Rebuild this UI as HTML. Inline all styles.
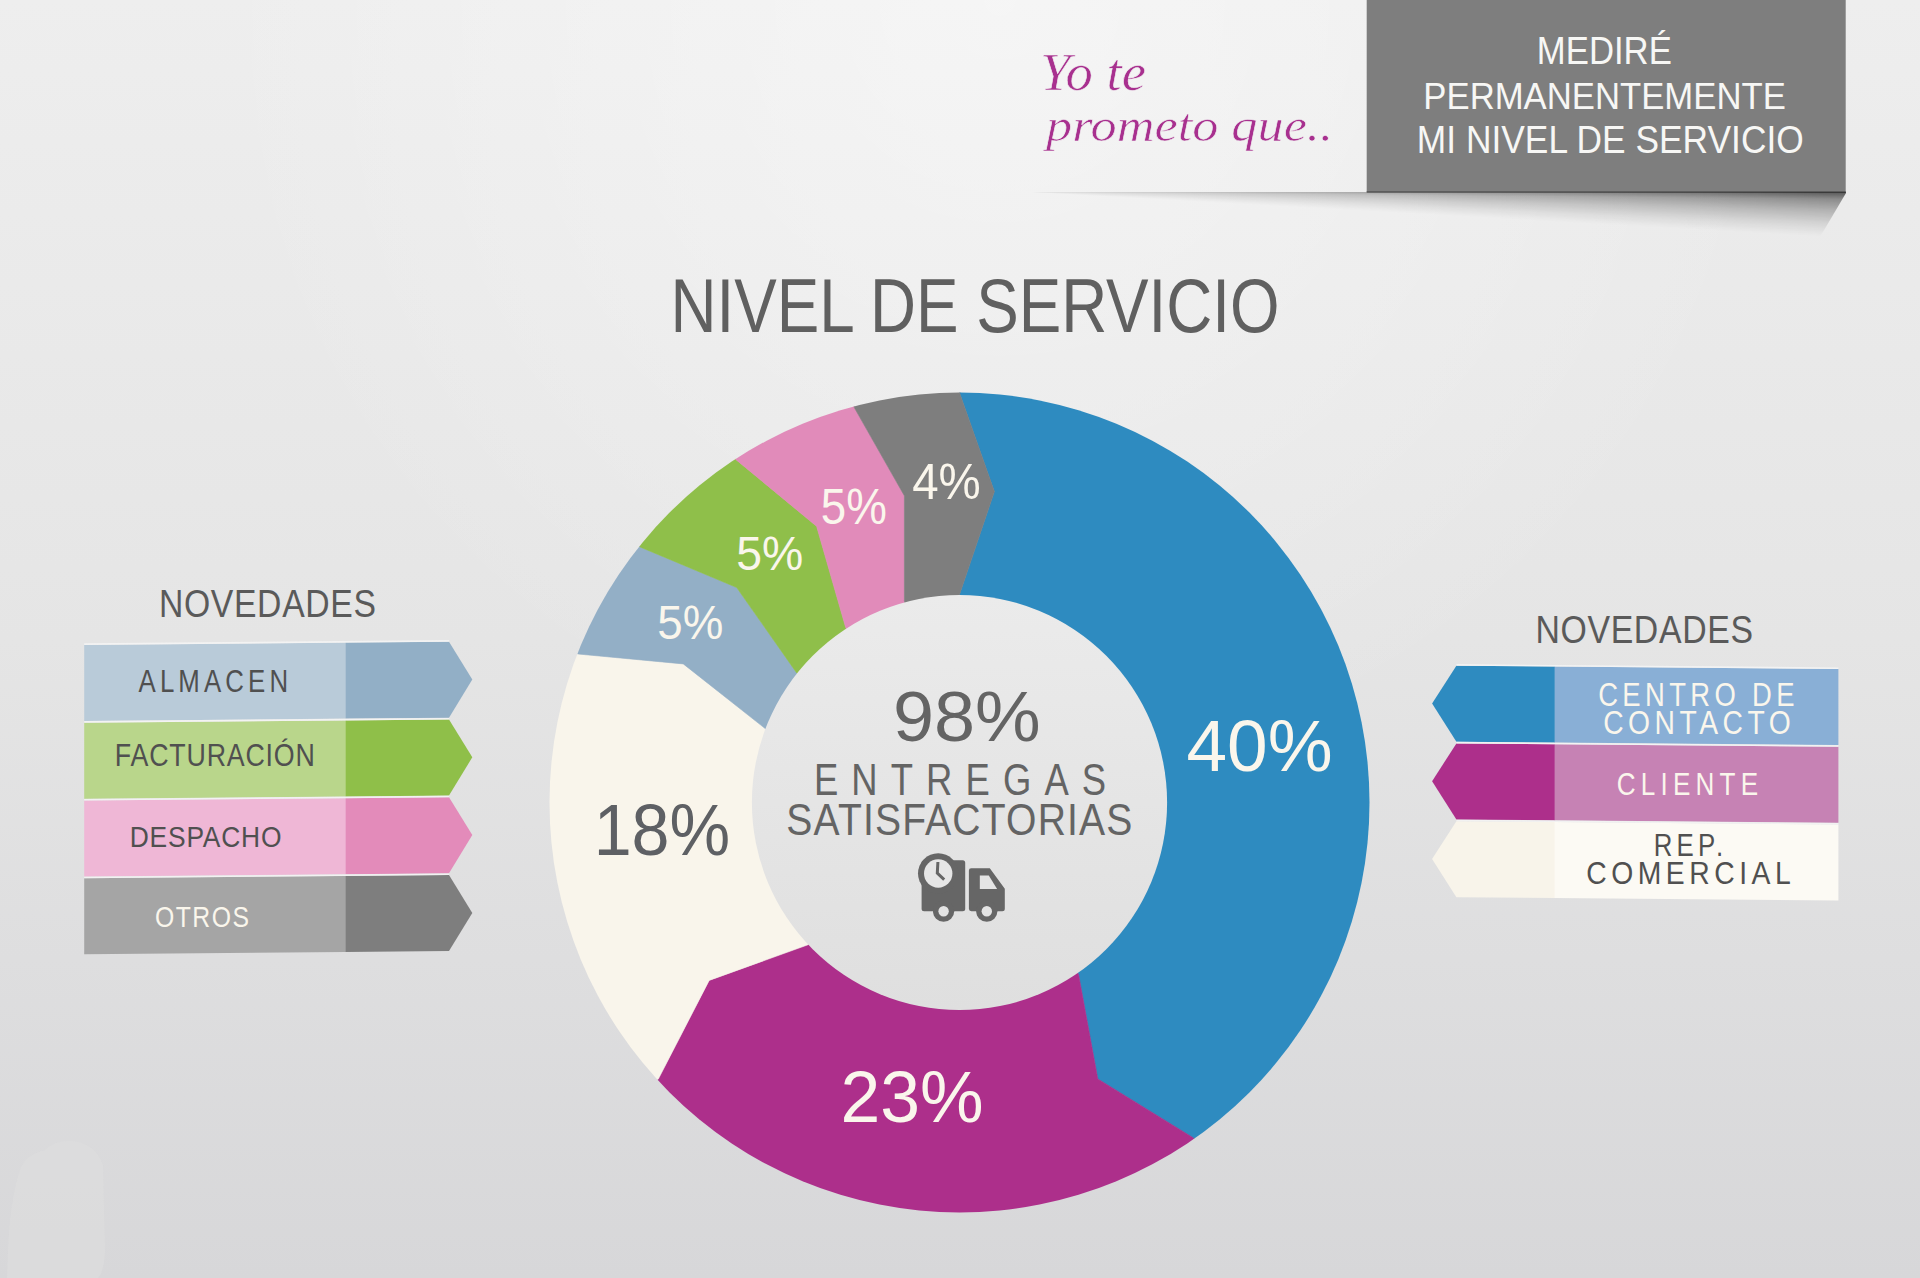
<!DOCTYPE html>
<html><head><meta charset="utf-8"><title>Nivel de servicio</title>
<style>html,body{margin:0;padding:0;width:1920px;height:1278px;overflow:hidden;background:#e6e6e6}
svg{display:block;position:absolute;left:0;top:0}
#shd{position:absolute;left:1024px;top:192px;width:822px;height:50px;
background:conic-gradient(from 90deg at 0 0, rgba(0,0,0,0.78) 0deg, rgba(0,0,0,0.5) 0.5deg, rgba(0,0,0,0.3) 1.3deg, rgba(0,0,0,0.12) 2.25deg, rgba(0,0,0,0.03) 2.9deg, rgba(0,0,0,0) 3.2deg, rgba(0,0,0,0) 360deg);
-webkit-mask-image:linear-gradient(to right, rgba(0,0,0,0.12), rgba(0,0,0,0.18) 9%, rgba(0,0,0,0.36) 37%, rgba(0,0,0,0.66) 82%, rgba(0,0,0,0.82));
mask-image:linear-gradient(to right, rgba(0,0,0,0.12), rgba(0,0,0,0.18) 9%, rgba(0,0,0,0.36) 37%, rgba(0,0,0,0.66) 82%, rgba(0,0,0,0.82));
clip-path:polygon(0 0, 822px 0, 822px 1px, 796px 45px, 0 50px)}text{font-family:'Liberation Sans', Arial, sans-serif}</style></head>
<body>
<svg width="1920" height="1278" viewBox="0 0 1920 1278">
<defs>
<linearGradient id="bg" x1="0.5" y1="0" x2="0.5" y2="1">
<stop offset="0" stop-color="#eeeeee"/><stop offset="0.5" stop-color="#e5e5e5"/><stop offset="1" stop-color="#d7d7d9"/></linearGradient>
<radialGradient id="bgr" gradientUnits="userSpaceOnUse" cx="1000" cy="0" r="800">
<stop offset="0" stop-color="#fff" stop-opacity="0.45"/><stop offset="1" stop-color="#fff" stop-opacity="0"/></radialGradient>
<linearGradient id="inner" x1="0" y1="0" x2="0" y2="1">
<stop offset="0" stop-color="#ebebeb"/><stop offset="1" stop-color="#dfdfdf"/></linearGradient>
<clipPath id="oc"><circle cx="959.5" cy="802.5" r="410.0"/></clipPath>
</defs>
<rect width="1920" height="1278" fill="url(#bg)"/>
<rect width="1920" height="1278" fill="url(#bgr)"/>
<path d="M7,1278 L8,1250 Q10,1200 20,1170 Q25,1155 45,1150 Q55,1140 72,1141 Q95,1143 103,1165 L105,1250 Q104,1272 98,1278 Z" fill="#dedede" opacity="0.55"/>
<!-- header -->

<rect x="1366.7" y="0" width="479" height="192.4" fill="#7e7e7e"/>
<rect x="1366.7" y="191.2" width="479" height="1.2" fill="#555"/>
<text x="1040" y="89.5" font-size="52" fill="#a8308f" stroke="#f2f2f2" stroke-width="0.6" style="font-family:'Liberation Serif',serif;font-style:italic" textLength="106" lengthAdjust="spacingAndGlyphs">Yo te</text>
<text x="1046" y="140.5" font-size="46" fill="#a8308f" stroke="#f1f1f1" stroke-width="0.6" style="font-family:'Liberation Serif',serif;font-style:italic" textLength="287" lengthAdjust="spacingAndGlyphs">prometo que..</text>
<g clip-path="url(#oc)">
<polygon points="959.5,802.5 959.4,594.9 994.4,491.6 959.9,393.8 960.0,282.5 1068.9,294.1 1172.9,328.3 1267.5,383.5 1348.4,457.3 1412.1,546.4 1455.7,646.8 1477.3,754.2 1475.9,863.7 1451.6,970.5 1405.5,1069.8 1339.7,1157.3 1256.9,1229.0 1193.4,1137.9 1097.8,1078.9 1078.5,974.2" fill="#2e8bc0" stroke="#2e8bc0" stroke-width="0.6"/>
<polygon points="959.5,802.5 1078.5,974.2 1097.8,1078.9 1193.4,1137.9 1256.9,1229.0 1163.8,1280.7 1062.0,1312.3 955.9,1322.5 850.0,1310.8 748.7,1277.9 656.2,1224.9 576.5,1154.2 658.3,1079.1 709.2,980.4 807.9,944.8" fill="#ad2f8b" stroke="#ad2f8b" stroke-width="0.6"/>
<polygon points="959.5,802.5 807.9,944.8 709.2,980.4 658.3,1079.1 576.5,1154.2 508.2,1060.9 462.3,954.8 440.9,841.1 445.2,725.5 475.0,613.8 578.2,654.0 683.3,663.9 765.5,728.8" fill="#f9f5eb" stroke="#f9f5eb" stroke-width="0.6"/>
<polygon points="959.5,802.5 765.5,728.8 683.3,663.9 578.2,654.0 475.0,613.8 509.1,542.7 553.6,477.5 640.6,547.2 736.7,587.5 796.7,672.9" fill="#93afc6" stroke="#93afc6" stroke-width="0.6"/>
<polygon points="959.5,802.5 796.7,672.9 736.7,587.5 640.6,547.2 553.6,477.5 610.1,417.4 675.5,366.9 736.0,459.7 816.6,526.3 845.7,627.6" fill="#8fbf4a" stroke="#8fbf4a" stroke-width="0.6"/>
<polygon points="959.5,802.5 845.7,627.6 816.6,526.3 736.0,459.7 675.5,366.9 747.9,327.5 825.6,300.0 854.3,407.6 904.4,495.8 904.4,600.9" fill="#e18bba" stroke="#e18bba" stroke-width="0.6"/>
<polygon points="959.5,802.5 904.4,600.9 904.4,495.8 854.3,407.6 825.6,300.0 892.3,286.9 960.0,282.5 959.9,393.8 994.4,491.6 959.4,594.9" fill="#7e7e7e" stroke="#7e7e7e" stroke-width="0.6"/>
</g>
<circle cx="959.5" cy="802.5" r="207.6" fill="url(#inner)"/>
<g transform="translate(278 798) skewY(-0.5) translate(-278 -798)"><rect x="84.2" y="643.2" width="262" height="76.0" fill="#b9cbd9"/><polygon points="345.7,643.2 449,643.2 472.3,681.2 449,719.2 345.7,719.2" fill="#92afc6"/><rect x="84.2" y="641.6" width="365" height="1.6" fill="#f4f4f4" opacity="0.9"/><rect x="84.2" y="721.0" width="262" height="76.0" fill="#b9d68b"/><polygon points="345.7,721.0 449,721.0 472.3,759.0 449,797.0 345.7,797.0" fill="#8fbf49"/><rect x="84.2" y="719.4" width="365" height="1.6" fill="#f4f4f4" opacity="0.9"/><rect x="84.2" y="798.8" width="262" height="76.0" fill="#efb7d6"/><polygon points="345.7,798.8 449,798.8 472.3,836.8 449,874.8 345.7,874.8" fill="#e38bba"/><rect x="84.2" y="797.2" width="365" height="1.6" fill="#f4f4f4" opacity="0.9"/><rect x="84.2" y="876.6" width="262" height="76.0" fill="#a5a5a5"/><polygon points="345.7,876.6 449,876.6 472.3,914.6 449,952.6 345.7,952.6" fill="#7e7e7e"/><rect x="84.2" y="875.0" width="365" height="1.6" fill="#f4f4f4" opacity="0.9"/></g>
<g transform="translate(1635 783) skewY(0.5) translate(-1635 -783)"><polygon points="1432.1,705.2 1456.4,667.2 1555,667.2 1555,743.2 1456.4,743.2" fill="#2e8bc0"/><rect x="1554.6" y="667.2" width="283.8" height="76.0" fill="#89afd6"/><rect x="1456.4" y="665.6" width="382" height="1.6" fill="#f4f4f4" opacity="0.9"/><polygon points="1432.1,783.0 1456.4,745.0 1555,745.0 1555,821.0 1456.4,821.0" fill="#ad2f8b"/><rect x="1554.6" y="745.0" width="283.8" height="76.0" fill="#c682b4"/><rect x="1456.4" y="743.4" width="382" height="1.6" fill="#f4f4f4" opacity="0.9"/><polygon points="1432.1,860.8 1456.4,822.8 1555,822.8 1555,898.8 1456.4,898.8" fill="#f8f4ea"/><rect x="1554.6" y="822.8" width="283.8" height="76.0" fill="#fcfaf4"/><rect x="1456.4" y="821.2" width="382" height="1.6" fill="#f4f4f4" opacity="0.9"/></g>
<g fill="#666">
<rect x="921.6" y="860.3" width="43.6" height="50.9" rx="2.5"/>
<path d="M968.9,870.5 q0,-2.3 2.3,-2.3 h18.6 l15,20.6 v19.9 q0,2.5 -2.5,2.5 h-31 q-2.4,0 -2.4,-2.4 z"/>
<circle cx="938.2" cy="873.5" r="20.2"/>
<circle cx="943.6" cy="911.2" r="10.6"/>
<circle cx="986.8" cy="911.2" r="10.6"/>
</g>
<circle cx="938.2" cy="873.5" r="14.2" fill="#e6e6e6"/>
<circle cx="943.6" cy="911.2" r="5.2" fill="#e3e3e3"/>
<circle cx="986.8" cy="911.2" r="5.2" fill="#e3e3e3"/>
<path d="M979.8,875.6 h9 l8.3,13.4 h-17.3 z" fill="#e4e4e4"/>
<path d="M937.9,862 l-0.6,11.2 l6.9,6.4" stroke="#666" stroke-width="3" fill="none"/>

<text x="670.60" y="331.70" font-size="75.62" fill="#606060" textLength="609.00" lengthAdjust="spacingAndGlyphs">NIVEL DE SERVICIO</text>
<text x="1536.82" y="64.42" font-size="37.94" fill="#f7f7f5" textLength="135.02" lengthAdjust="spacingAndGlyphs">MEDIRÉ</text>
<text x="1423.36" y="109.42" font-size="37.29" fill="#f7f7f5" textLength="362.42" lengthAdjust="spacingAndGlyphs">PERMANENTEMENTE</text>
<text x="1416.86" y="153.46" font-size="38.65" fill="#f7f7f5" textLength="386.86" lengthAdjust="spacingAndGlyphs">MI NIVEL DE SERVICIO</text>
<text x="158.88" y="617.00" font-size="38.65" fill="#5a5a5a" textLength="217.78" lengthAdjust="spacingAndGlyphs" style="letter-spacing:0.77px">NOVEDADES</text>
<text x="1535.38" y="643.04" font-size="38.65" fill="#5a5a5a" textLength="218.32" lengthAdjust="spacingAndGlyphs" style="letter-spacing:0.77px">NOVEDADES</text>
<text x="138.54" y="691.54" font-size="31.12" fill="#505050" textLength="153.70" lengthAdjust="spacingAndGlyphs" style="letter-spacing:4.98px">ALMACEN</text>
<text x="114.82" y="766.00" font-size="30.45" fill="#505050" textLength="200.84" lengthAdjust="spacingAndGlyphs" style="letter-spacing:0.91px">FACTURACIÓN</text>
<text x="129.76" y="846.50" font-size="29.24" fill="#505050" textLength="152.48" lengthAdjust="spacingAndGlyphs" style="letter-spacing:0.88px">DESPACHO</text>
<text x="154.90" y="927.40" font-size="29.81" fill="#faf6ec" textLength="95.50" lengthAdjust="spacingAndGlyphs" style="letter-spacing:1.79px">OTROS</text>
<text x="1598.18" y="705.58" font-size="32.81" fill="#faf6ec" textLength="200.72" lengthAdjust="spacingAndGlyphs" style="letter-spacing:5.25px">CENTRO DE</text>
<text x="1603.16" y="733.50" font-size="32.81" fill="#faf6ec" textLength="192.14" lengthAdjust="spacingAndGlyphs" style="letter-spacing:5.25px">CONTACTO</text>
<text x="1616.66" y="794.92" font-size="32.11" fill="#faf6ec" textLength="146.64" lengthAdjust="spacingAndGlyphs" style="letter-spacing:6.42px">CLIENTE</text>
<text x="1653.76" y="856.04" font-size="32.20" fill="#505050" textLength="73.46" lengthAdjust="spacingAndGlyphs" style="letter-spacing:5.15px">REP.</text>
<text x="1586.24" y="883.50" font-size="32.11" fill="#505050" textLength="209.06" lengthAdjust="spacingAndGlyphs" style="letter-spacing:5.14px">COMERCIAL</text>
<text x="892.92" y="740.96" font-size="69.91" fill="#646464" textLength="147.70" lengthAdjust="spacingAndGlyphs">98%</text>
<text x="813.90" y="794.92" font-size="45.17" fill="#646464" textLength="305.38" lengthAdjust="spacingAndGlyphs" style="letter-spacing:16.26px">ENTREGAS</text>
<text x="786.30" y="834.96" font-size="43.76" fill="#646464" textLength="347.32" lengthAdjust="spacingAndGlyphs" style="letter-spacing:1.31px">SATISFACTORIAS</text>
<text x="912.18" y="499.46" font-size="49.77" fill="#faf6ec" textLength="68.64" lengthAdjust="spacingAndGlyphs">4%</text>
<text x="820.72" y="524.08" font-size="49.54" fill="#faf6ec" textLength="66.12" lengthAdjust="spacingAndGlyphs">5%</text>
<text x="736.22" y="569.50" font-size="47.50" fill="#faf6ec" textLength="67.04" lengthAdjust="spacingAndGlyphs">5%</text>
<text x="657.30" y="639.04" font-size="48.77" fill="#faf6ec" textLength="66.00" lengthAdjust="spacingAndGlyphs">5%</text>
<text x="1186.50" y="770.96" font-size="73.01" fill="#faf6ec" textLength="146.18" lengthAdjust="spacingAndGlyphs">40%</text>
<text x="593.66" y="854.92" font-size="71.65" fill="#5e6064" textLength="136.58" lengthAdjust="spacingAndGlyphs">18%</text>
<text x="840.46" y="1121.54" font-size="71.59" fill="#faf6ec" textLength="143.18" lengthAdjust="spacingAndGlyphs">23%</text>
</svg>
<div id="shd"></div>
</body></html>
